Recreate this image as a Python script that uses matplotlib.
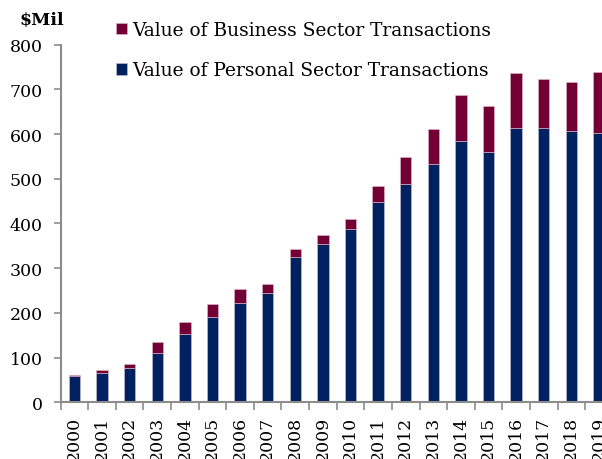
import numpy as np
import matplotlib
matplotlib.use('Agg')
import matplotlib.pyplot as plt

years = [str(y) for y in range(2000, 2020)]
personal = [58, 66, 76, 110, 152, 190, 223, 244, 326, 354, 388, 447, 489, 532, 585, 559, 614, 614, 606, 603]
total = [61, 72, 85, 134, 179, 219, 253, 264, 343, 374, 410, 483, 549, 611, 687, 663, 736, 723, 716, 738]
business = [t - p for t, p in zip(total, personal)]

navy = '#00215F'
maroon = '#730034'
grey = '#8C8C8C'

plt.rcParams['font.family'] = ['DejaVu Serif']

fig = plt.figure(figsize=(6.02, 4.6), dpi=100)
ax = fig.add_axes([0.1008, 0.1233, 0.917, 0.7774])

x = np.arange(len(years))
ax.bar(x, personal, width=0.41, color=navy, edgecolor='#C9C3DA', linewidth=0.4,
       label='Value of Personal Sector Transactions')
ax.bar(x, business, width=0.41, bottom=personal, color=maroon, edgecolor='#E3BCCB', linewidth=0.4,
       label='Value of Business Sector Transactions')

ax.set_xlim(-0.5, len(years) - 0.5)
ax.set_ylim(0, 800)
ax.set_yticks(range(0, 801, 100))
ax.tick_params(axis='y', labelsize=12.5, direction='out', length=5, color=grey, width=1.2, pad=8)
ax.set_xticks(x)
ax.set_xticklabels(years, rotation=90, fontsize=12.5)
ax.tick_params(axis='x', which='major', length=0, pad=10)
ax.set_xticks(np.arange(-0.5, len(years), 1), minor=True)
ax.tick_params(axis='x', which='minor', direction='out', length=6, color=grey, width=1.2)

for s in ['top', 'right']:
    ax.spines[s].set_visible(False)
for s in ['left', 'bottom']:
    ax.spines[s].set_color(grey)
    ax.spines[s].set_linewidth(1.5)

handles, labels = ax.get_legend_handles_labels()
ax.legend(handles[::-1], labels[::-1], loc='upper left', bbox_to_anchor=(0.086, 1.087),
          frameon=False, fontsize=13.4, handlelength=0.6, handleheight=0.6,
          handletextpad=0.3, labelspacing=1.2, borderaxespad=0)

fig.text(0.0698, 0.956, '$Mil', fontsize=12.5, fontweight='bold', va='center', ha='center')

fig.savefig('out.png', dpi=100)
